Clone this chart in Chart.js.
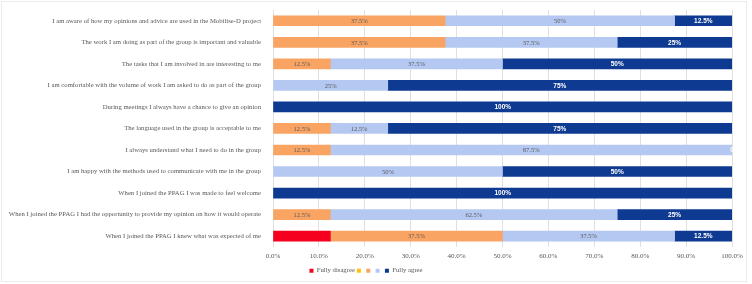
<!DOCTYPE html>
<html>
<head>
<meta charset="utf-8">
<script src="https://cdn.jsdelivr.net/npm/chart.js@4"></script>
<style>
html,body{margin:0;padding:0;background:#fff;}
#wrap{position:relative;width:752px;height:284px;}
</style>
</head>
<body>
<div id="wrap"><canvas id="c" width="752" height="284"></canvas></div>
<script>
const categories = [
  "I am aware of how my opinions and advice are used in the Mobilise-D project",
  "The work I am doing as part of the group is important and valuable",
  "The tasks that I am involved in are interesting to me",
  "I am comfortable with the volume of work I am asked to do as part of the group",
  "During meetings I always have a chance to give an opinion",
  "The language used in the group is acceptable to me",
  "I always understand what I need to do in the group",
  "I am happy with the methods used to communicate with me in the group",
  "When I joined the PPAG I was made to feel welcome",
  "When I joined the PPAG I had the opportunity to provide my opinion on how it would operate",
  "When I joined the PPAG I knew what was expected of me"
];
const seriesNames = ["Fully disagree", "", "", "", "Fully agree"];
const fullyDisagree = [null, null, null, null, null, null, null, null, null, null, 12.5];
const disagree      = [null, null, null, null, null, null, null, null, null, null, null];
const neutral       = [37.5, 37.5, 12.5, null, null, 12.5, 12.5, null, null, 12.5, 37.5];
const agree         = [50, 37.5, 37.5, 25, null, 12.5, 87.5, 50, null, 62.5, 37.5];
const fullyAgree    = [12.5, 25, 50, 75, 100, 75, 0, 50, 100, 25, 12.5];
const xTicks = [0, 10, 20, 30, 40, 50, 60, 70, 80, 90, 100];

const colors = ["#F5001E", "#FFC000", "#F9A463", "#B4C8F2", "#0E3A92"];
const seriesData = [fullyDisagree, disagree, neutral, agree, fullyAgree];

const serif = "'Liberation Serif', 'Times New Roman', serif";
const sans = "'Liberation Sans', Arial, sans-serif";

const labelPlugin = {
  id: 'barLabels',
  afterDatasetsDraw(chart) {
    const ctx = chart.ctx;
    ctx.save();
    ctx.textAlign = 'center';
    ctx.textBaseline = 'middle';
    chart.data.datasets.forEach((ds, di) => {
      if (di < 2) return;
      const meta = chart.getDatasetMeta(di);
      meta.data.forEach((bar, i) => {
        const v = ds.data[i];
        if (v === null || v === undefined) return;
        const p = bar.getProps(['x', 'y', 'base'], true);
        const cx = (p.x + p.base) / 2;
        const txt = v === 0 ? '0' : v + '%';
        if (di === 4) {
          ctx.fillStyle = '#FFFFFF';
          ctx.font = 'bold 6.5px ' + sans;
        } else {
          ctx.fillStyle = '#595959';
          ctx.font = '6.5px ' + serif;
        }
        ctx.fillText(txt, cx, p.y + 0.5);
      });
    });
    ctx.restore();
  }
};

const borderPlugin = {
  id: 'outerBorder',
  beforeDraw(chart) {
    const ctx = chart.ctx;
    ctx.save();
    ctx.fillStyle = '#fff';
    ctx.fillRect(0, 0, chart.width, chart.height);
    ctx.strokeStyle = '#EBEBEB';
    ctx.lineWidth = 1;
    ctx.strokeRect(1.5, 1.5, 745, 280);
    ctx.restore();
  }
};

new Chart(document.getElementById('c'), {
  type: 'bar',
  data: {
    labels: categories,
    datasets: seriesData.map((d, i) => ({
      label: seriesNames[i],
      data: d,
      backgroundColor: colors[i],
      borderWidth: 0,
      barThickness: 10
    }))
  },
  options: {
    indexAxis: 'y',
    responsive: false,
    animation: false,
    devicePixelRatio: 1,
    layout: { padding: { top: 10, right: 20, bottom: 0, left: 0 } },
    plugins: {
      legend: {
        position: 'bottom',
        labels: {
          boxWidth: 4,
          boxHeight: 4,
          padding: 2,
          color: '#595959',
          font: { family: serif, size: 6.7 }
        }
      },
      tooltip: { enabled: false }
    },
    scales: {
      x: {
        stacked: true,
        min: 0,
        max: 100,
        afterBuildTicks(scale) { scale.ticks = xTicks.map(v => ({ value: v })); },
        ticks: {
          color: '#595959',
          font: { family: serif, size: 7 },
          padding: 5,
          maxRotation: 0,
          callback: v => v.toFixed(1) + '%'
        },
        grid: { color: '#E0E0E0', drawTicks: false },
        border: { display: false }
      },
      y: {
        stacked: true,
        afterFit(scale) { scale.width = 273; },
        ticks: {
          color: '#595959',
          font: { family: serif, size: 6.7 },
          padding: 4,
          autoSkip: false
        },
        grid: { display: false },
        border: { display: false }
      }
    }
  },
  plugins: [borderPlugin, labelPlugin]
});
</script>
</body>
</html>
